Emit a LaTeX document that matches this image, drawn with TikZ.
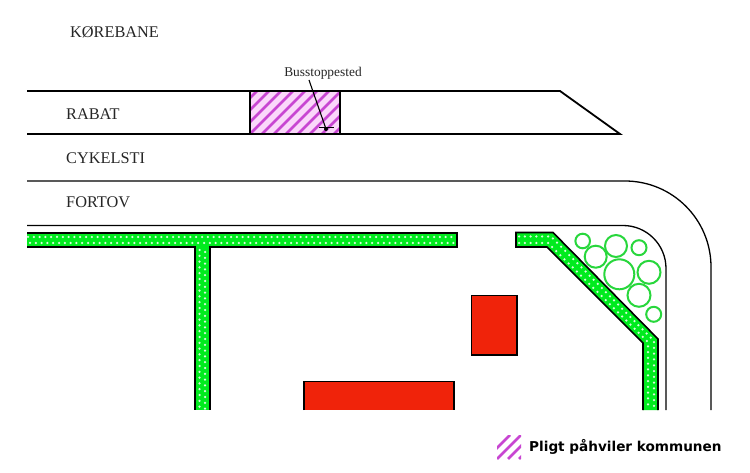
\documentclass[tikz,border=0pt]{standalone}
\usepackage{fontspec}
\setmainfont{Liberation Serif}
\newfontfamily\legendfont{DejaVu Sans}
\definecolor{hedgegreen}{RGB}{0,235,30}
\definecolor{treegreen}{RGB}{40,215,60}
\definecolor{hatchpurple}{RGB}{200,70,210}
\definecolor{hatchpale}{RGB}{250,215,250}
\definecolor{housered}{RGB}{240,35,10}
\tikzset{
  road/.style={draw=black,line width=1.3pt},
  kerbline/.style={draw=black,line width=1.8pt},
  zonelabel/.style={font=\fontsize{16.3}{16}\selectfont,anchor=west,inner sep=0pt,text=black!85},
  hedge/.style={draw=black,line width=1.6pt},
  hedgedots/.style={draw=white!85!hedgegreen,line width=2.5pt,line cap=round,dash pattern=on 0pt off 5.8pt},
  tree/.style={draw=treegreen,line width=2pt},
  house/.style={draw=black,fill=housered,line width=1.6pt},
  hatchline/.style={draw=hatchpurple,line width=2.6pt},
}
\begin{document}
\begin{tikzpicture}[x=1pt,y=-1pt]
\useasboundingbox[fill=white] (0,0) rectangle (750,473);
% bus stop hatch
\begin{scope}
\clip (250,91) rectangle (340,134);
\fill[hatchpale] (250,91) rectangle (340,134);
\foreach \k in {-60,-48,...,120}{\draw[hatchline] (240+\k,144) -- (240+\k+60,84);}
\end{scope}
% road lines
\draw[kerbline] (27,91) -- (560,91) -- (620,134) -- (27,134);
\draw[kerbline] (250,91) -- (250,134);
\draw[kerbline] (340,91) -- (340,134);
\draw[road] (27,181) -- (625,181) arc[start angle=-90,end angle=0,radius=86] -- (711,410);
\draw[road] (27,225.5) -- (623,225.5) arc[start angle=-90,end angle=0,radius=43] -- (666,410);
% zone labels
\node[zonelabel] (kb) at (70,32) {KØREBANE};
\node[zonelabel] (ra) at (66,114.5) {RABAT};
\node[zonelabel] (cy) at (66,158.5) {CYKELSTI};
\node[zonelabel] (fo) at (66,202.5) {FORTOV};
% bus stop label and leader
\node[font=\fontsize{13.4}{13}\selectfont,inner sep=0pt,text=black!85] (bus) at (323,73) {Busstoppested};
\coordinate (busend) at (326,129);
\draw[line width=1.1pt] (309,80) -- (busend);
\fill (busend) circle (2pt);
\draw[line width=1pt] (319,128) -- (334,128);
% hedges
\fill[hedgegreen] (27,233) rectangle (457,247);
\fill[hedgegreen] (195,247) rectangle (210,410);
\fill[hedgegreen] (516,232.5) -- (553,232.5) -- (658,339) -- (658,410) -- (643,410) -- (643,343) -- (547,247) -- (516,247) -- cycle;
\draw[hedgedots] (28,237) -- (456,237);
\draw[hedgedots] (30,243) -- (456,243);
\draw[hedgedots] (199.5,250) -- (199.5,410);
\draw[hedgedots] (205,252) -- (205,410);
\draw[hedgedots] (519,236.5) -- (551,236.5) -- (654,341) -- (654,410);
\draw[hedgedots] (519,243) -- (548,243) -- (648,342) -- (648,410);
\draw[hedge] (27,233) -- (457,233) -- (457,247) -- (210,247) -- (210,410);
\draw[hedge] (27,247) -- (195,247) -- (195,410);
\draw[hedge] (658,410) -- (658,339) -- (553,232.5) -- (516,232.5) -- (516,247) -- (547,247) -- (643,343) -- (643,410);
% trees
\foreach \cx/\cy/\r in {582.7/241/7.3,595.7/256.7/11,616/246/11,639/247.7/7.5,619.3/274.3/15,649/272.3/11.5,639/295.3/11.5,653.7/314.3/7.5}
  \draw[tree] (\cx,\cy) circle (\r);
% buildings
\draw[house] (471.5,295.5) rectangle (517,355);
\fill[housered] (304,381) rectangle (454,410);
\draw[house,fill=none] (304,410) -- (304,381.5) -- (454,381.5) -- (454,410);
% legend
\begin{scope}
\clip (497,435) rectangle (521,459);
\foreach \k in {0,11,22,33}{\draw[hatchline] (486+\k,459) -- (486+\k+24,435);}
\end{scope}
\node[font=\legendfont\bfseries\fontsize{13.6}{14}\selectfont,anchor=west,inner sep=0pt] (lg) at (529,447) {Pligt påhviler kommunen};
\end{tikzpicture}
\end{document}
